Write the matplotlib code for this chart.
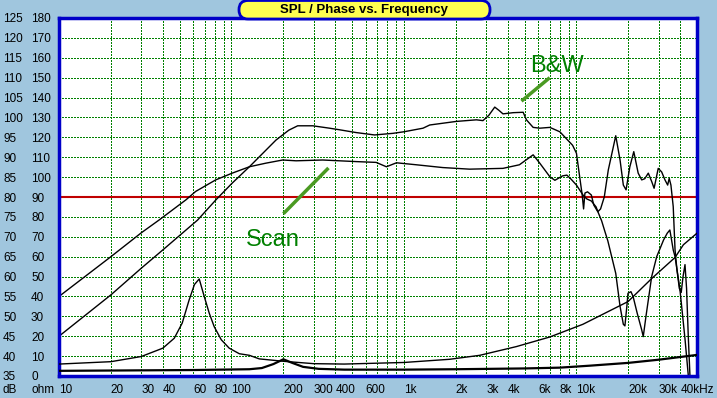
import matplotlib
matplotlib.use("Agg")
import matplotlib.pyplot as plt
from matplotlib.patches import FancyBboxPatch
from matplotlib.ticker import NullLocator

plt.rcParams['font.family'] = ['Liberation Sans', 'DejaVu Sans']

# values
scan_freq = [10, 20, 30, 38, 54.5, 62, 81, 101, 127, 158, 198, 237, 338, 528, 690, 791, 905,
             1180, 1680, 2400, 3750, 4670, 5100, 5610, 6130, 7010, 7500, 8300, 8800, 9300, 10000,
             10500, 11000, 11500, 12200, 13000, 13400, 14000, 14700, 15200, 16900, 17900, 18700,
             19100, 19600, 19900, 20700, 21300, 22500, 23900, 24400, 25300, 27300, 29200, 32000,
             33600, 34800, 35600, 36400, 37300, 39800, 42600, 44500]
scan_spl = [55, 65, 71, 74.2, 79.3, 81.4, 84.3, 86, 87.6, 88.5, 89.3, 89.1, 89.3, 88.9, 88.7, 87.6, 88.6,
            88.1, 87.4, 87.0, 87.2, 88.1, 89.3, 90.6, 88.5, 85.1, 84.2, 85.3, 85.5, 84.5, 83,
            81.6, 80.3, 79.5, 79.0, 77.5, 76, 74, 71, 69, 60.8, 52.5, 48,
            47.6, 52.5, 55.8, 56.2, 55, 50.8, 46.6, 44.9, 50, 60, 65, 69.2,
            70.9, 71.7, 69.2, 66.7, 65, 56.8, 44.3, 35.2]

bw_freq = [10, 20, 30, 40, 63.6, 81.3, 101, 127, 181, 215, 242, 296, 370, 423, 528, 675, 862, 1000,
           1290, 1410, 2010, 2630, 2870, 3100, 3360, 3550, 3750, 4300, 4910, 5130, 5610, 6130, 7010,
           8010, 8900, 9500, 10000, 10500, 10800, 11000, 11200, 11600, 12200, 12600, 13300, 13800,
           14500, 15300, 16900, 17900, 18700, 19400, 20400, 21500, 22800, 23900, 24900, 26100,
           27300, 28200, 29800, 31200, 32600, 33800, 34500, 35300, 36400, 37300, 38200, 39500,
           40500, 41500, 42600, 43500, 44500, 45500]
bw_spl = [45, 55.4, 62.1, 66.7, 74.2, 79.3, 83.5, 87.6, 94.3, 96.8, 97.9, 97.9, 97.3, 96.9, 96.2, 95.6, 96.0, 96.4,
          97.3, 98.1, 99.0, 99.4, 99.2, 100.5, 102.6, 101.8, 100.9, 101.2, 101.3, 99.4, 97.5, 97.3, 97.5,
          96.4, 94.3, 93.0, 91, 84.3, 80.5, 77, 81, 81.3, 80.5, 78, 76.3, 77,
          80, 86.8, 95.4, 89.3, 83, 81.8, 87.6, 91.4, 86, 84.3, 84.6, 86,
          83.9, 82.2, 87.2, 86.3, 84.3, 83, 84.7, 83, 77.6, 66.7, 62, 57,
          56, 60, 63, 57, 45, 35.2]

imp1_freq = [10, 20, 30, 40, 46.6, 51.8, 56.8, 61, 65, 69.5, 74.3, 79.4, 87.3, 97, 111, 127, 145, 200,
             300, 450, 1000, 1840, 2750, 4490, 7000, 10900, 16800, 19900, 27300, 37300, 41700, 50000]
imp1_ohm = [6.0, 7.2, 9.8, 14.0, 19.0, 26.6, 38.2, 46.0, 48.8, 40.0, 31.6, 24.8, 18.2, 14.0, 11.2, 10.4, 8.6, 7.4,
            6.2, 6.0, 6.8, 8.4, 10.4, 14.8, 19.6, 26.0, 34.2, 37.4, 49.0, 59.6, 66.0, 71.8]

imp2_freq = [10, 60, 127, 150, 175, 200, 225, 260, 320, 450, 1000, 2000, 5000, 8000, 12000, 20000, 30000, 50000]
imp2_ohm = [2.6, 3.0, 3.4, 4.0, 6.0, 8.4, 6.6, 4.6, 3.6, 3.2, 3.2, 3.4, 3.8, 4.2, 5.2, 6.6, 8.2, 10.6]

grid_freqs = [10, 20, 30, 40, 50, 60, 70, 80, 90,
              100, 200, 300, 400, 500, 600, 700, 800, 900,
              1000, 2000, 3000, 4000, 5000, 6000, 7000, 8000, 9000,
              10000, 20000, 30000, 40000]
freq_labels = {10: '10', 20: '20', 30: '30', 40: '40', 60: '60', 80: '80', 100: '100',
               200: '200', 300: '300', 400: '400', 600: '600', 1000: '1k', 2000: '2k',
               3000: '3k', 4000: '4k', 6000: '6k', 8000: '8k', 10000: '10k', 20000: '20k',
               30000: '30k', 40000: '40kHz'}
db_ticks = list(range(35, 130, 5))
ohm_ticks = list(range(0, 190, 10))

bg = '#A0C6DE'
green = '#008000'
blue = '#0000C8'
lblsize = 8.5

fig = plt.figure(figsize=(7.17, 3.98), dpi=100, facecolor=bg)
ax = fig.add_axes([59 / 717, 22 / 398, 638 / 717, 358 / 398])
ax.set_facecolor('white')
ax.set_xscale('log')
ax.set_xlim(10, 50000)
ax.set_ylim(35, 125)

ax.set_xticks(grid_freqs, [freq_labels.get(f, '') for f in grid_freqs])
ax.xaxis.set_minor_locator(NullLocator())
for t in ax.get_xticklabels():
    t.set_horizontalalignment('left')
ax.tick_params(axis='x', length=0, pad=5.5, labelsize=lblsize)

ax.set_yticks(db_ticks, [str(v) for v in db_ticks])
for t in ax.get_yticklabels():
    t.set_horizontalalignment('left')
ax.tick_params(axis='y', length=0, pad=56 * 0.72, labelsize=lblsize)

ax.grid(True, color=green, linestyle=(0, (1, 1)), linewidth=1.0, antialiased=False)
ax.axhline(80, color='#C00000', linewidth=1.5)

for s in ax.spines.values():
    s.set_color(blue)
    s.set_linewidth(2.5)
    s.set_zorder(5)

ax.plot(scan_freq, scan_spl, color='black', linewidth=1.0)
ax.plot(bw_freq, bw_spl, color='black', linewidth=1.0)

# impedance on its own scale
ax2 = ax.twinx()
ax2.set_ylim(0, 180)
ax2.set_yticks(ohm_ticks, [str(v) for v in ohm_ticks])
ax2.yaxis.tick_left()
for t in ax2.get_yticklabels():
    t.set_horizontalalignment('left')
ax2.tick_params(axis='y', length=0, pad=28 * 0.72, labelsize=lblsize)
for s in ax2.spines.values():
    s.set_visible(False)
ax2.plot(imp1_freq, imp1_ohm, color='black', linewidth=1.0)
ax2.plot(imp2_freq, imp2_ohm, color='black', linewidth=1.6)

# annotations
ax.plot([4800, 7000], [104.1, 110], color='#4A9A22', linewidth=2.5, solid_capstyle='butt')
ax.text(5360, 111.4, 'B&W', color=green, fontsize=17, va='baseline')
ax.plot([200, 365], [75.8, 87.3], color='#4A9A22', linewidth=2.5, solid_capstyle='butt')
ax.text(122, 67.7, 'Scan', color=green, fontsize=17, va='baseline')

fig.text(3 / 717, 1 - 383.6 / 398, 'dB', va='top', fontsize=lblsize)
fig.text(31 / 717, 1 - 383.6 / 398, 'ohm', va='top', fontsize=lblsize)

# title box
box = FancyBboxPatch((2.39, 3.79), 2.51, 0.185, boxstyle='round,pad=0,rounding_size=0.09',
                     transform=fig.dpi_scale_trans, facecolor='#FFFF50', edgecolor=blue,
                     linewidth=2, zorder=10)
fig.add_artist(box)
fig.text(364.5 / 717, 1 - 10 / 398, 'SPL / Phase vs. Frequency', ha='center', va='center',
         fontsize=9.5, fontweight='bold', zorder=11)

fig.savefig('out.png', dpi=100, facecolor=bg)
